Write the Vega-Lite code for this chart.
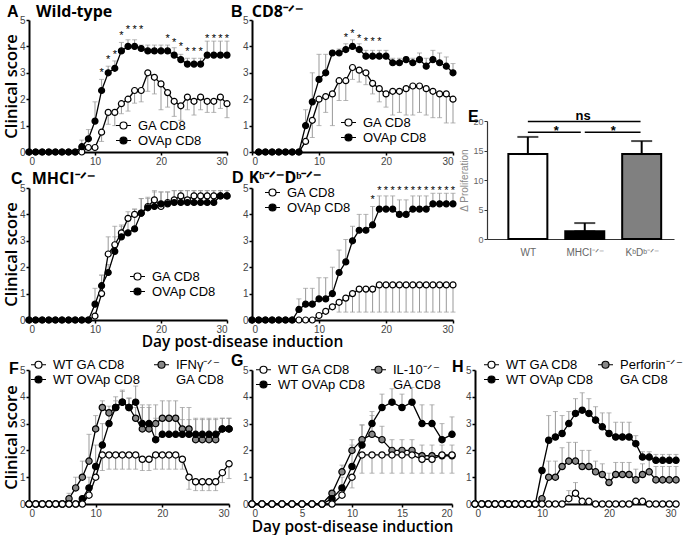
{
"$schema":"https://vega.github.io/schema/vega-lite/v6.json",
"padding":{"left":3,"top":4,"right":0,"bottom":0},
"background":"white",
"config":{
 "view":{"stroke":null},
 "font":"Liberation Sans",
 "axis":{"grid":false,"domainColor":"black","domainWidth":2,"tickColor":"black","tickWidth":1.5,"tickSize":3,"labelFont":"Liberation Sans","labelFontSize":10,"labelColor":"#444","labelPadding":1,"titleFont":"Open Sans","titleFontWeight":600,"titleFontSize":15.5,"titleColor":"black"},
 "axisY":{"titleFontSize":16.5},
 "legend":{"orient":"none","labelFont":"Liberation Sans","labelFontSize":13,"labelColor":"black","symbolType":"M-1.5,0H-0.7M0.7,0H1.5M0.7,0A0.7,0.7,0,1,1,-0.7,0A0.7,0.7,0,1,1,0.7,0","symbolSize":100,"symbolStrokeColor":"black","symbolStrokeWidth":1.2,"symbolOpacity":1,"labelOffset":8,"rowPadding":1,"padding":0},
 "title":{"anchor":"start","frame":"group","font":"Liberation Sans","fontSize":16,"fontWeight":"bold","color":"black","subtitleFont":"Open Sans","subtitleFontSize":16,"subtitleFontWeight":"bold","subtitleColor":"black","subtitlePadding":-16,"offset":-5}
},
"datasets":{
"A":[
{"s":"GA","d":0,"v":0},{"s":"GA","d":1,"v":0},{"s":"GA","d":2,"v":0},{"s":"GA","d":3,"v":0},{"s":"GA","d":4,"v":0},{"s":"GA","d":5,"v":0},{"s":"GA","d":6,"v":0},{"s":"GA","d":7,"v":0},{"s":"GA","d":8,"v":0},{"s":"GA","d":9,"v":0.17},{"s":"GA","d":10,"v":0.17},{"s":"GA","d":11,"v":0.75,"e":0.4},{"s":"GA","d":12,"v":1.5,"e":1.05},{"s":"GA","d":13,"v":1.5,"e":1.0},{"s":"GA","d":14,"v":1.83,"e":1.45},{"s":"GA","d":15,"v":2.0,"e":1.55},{"s":"GA","d":16,"v":2.33,"e":1.85},{"s":"GA","d":17,"v":2.33,"e":1.9},{"s":"GA","d":18,"v":3.0,"e":2.3},{"s":"GA","d":19,"v":2.83,"e":2.2},{"s":"GA","d":20,"v":2.58,"e":1.6},{"s":"GA","d":21,"v":2.25,"e":1.7},{"s":"GA","d":22,"v":1.92,"e":1.35},{"s":"GA","d":23,"v":1.75,"e":1.2},{"s":"GA","d":24,"v":2.08,"e":1.6},{"s":"GA","d":25,"v":1.92,"e":1.4},{"s":"GA","d":26,"v":2.08,"e":1.6},{"s":"GA","d":27,"v":1.92,"e":1.5},{"s":"GA","d":28,"v":1.92,"e":1.5},{"s":"GA","d":29,"v":2.08,"e":1.65},{"s":"GA","d":30,"v":1.83,"e":1.3},
{"s":"OV","d":0,"v":0},{"s":"OV","d":1,"v":0},{"s":"OV","d":2,"v":0},{"s":"OV","d":3,"v":0},{"s":"OV","d":4,"v":0},{"s":"OV","d":5,"v":0},{"s":"OV","d":6,"v":0},{"s":"OV","d":7,"v":0},{"s":"OV","d":8,"v":0.2,"e":0.45},{"s":"OV","d":9,"v":0.5,"e":0.85},{"s":"OV","d":10,"v":1.17,"e":1.9},{"s":"OV","d":11,"v":2.33,"e":2.75},{"s":"OV","d":12,"v":3.0,"e":3.25},{"s":"OV","d":13,"v":3.17,"e":3.45},{"s":"OV","d":14,"v":3.83,"e":4.15},{"s":"OV","d":15,"v":4.0,"e":4.25},{"s":"OV","d":16,"v":4.0,"e":4.25},{"s":"OV","d":17,"v":3.92,"e":4.05},{"s":"OV","d":18,"v":3.83,"e":4.05},{"s":"OV","d":19,"v":3.83,"e":4.05},{"s":"OV","d":20,"v":3.83,"e":4.05},{"s":"OV","d":21,"v":3.83,"e":4.05},{"s":"OV","d":22,"v":3.67,"e":3.95},{"s":"OV","d":23,"v":3.5,"e":3.7},{"s":"OV","d":24,"v":3.33,"e":3.55},{"s":"OV","d":25,"v":3.33,"e":3.55},{"s":"OV","d":26,"v":3.33,"e":3.55},{"s":"OV","d":27,"v":3.67,"e":4.2},{"s":"OV","d":28,"v":3.67,"e":4.2},{"s":"OV","d":29,"v":3.67,"e":4.2},{"s":"OV","d":30,"v":3.67,"e":4.2}],
"As":[{"d":11,"v":3.1},{"d":12,"v":3.6},{"d":13,"v":3.8},{"d":14,"v":4.5},{"d":15,"v":4.75},{"d":16,"v":4.75},{"d":17,"v":4.75},{"d":21,"v":4.4},{"d":22,"v":4.24},{"d":23,"v":4.1},{"d":24,"v":3.9},{"d":25,"v":3.9},{"d":26,"v":3.9},{"d":27,"v":4.4},{"d":28,"v":4.4},{"d":29,"v":4.4},{"d":30,"v":4.4}],
"B":[
{"s":"GA","d":1,"v":0},{"s":"GA","d":2,"v":0},{"s":"GA","d":3,"v":0},{"s":"GA","d":4,"v":0},{"s":"GA","d":5,"v":0},{"s":"GA","d":6,"v":0},{"s":"GA","d":7,"v":0},{"s":"GA","d":8,"v":0.4},{"s":"GA","d":9,"v":1.2,"e":0.55},{"s":"GA","d":10,"v":2.0,"e":1.0},{"s":"GA","d":11,"v":2.1,"e":1.5},{"s":"GA","d":12,"v":2.2,"e":1.0},{"s":"GA","d":13,"v":2.7,"e":1.95},{"s":"GA","d":14,"v":2.7,"e":1.95},{"s":"GA","d":15,"v":3.2,"e":2.75},{"s":"GA","d":16,"v":3.1,"e":2.65},{"s":"GA","d":17,"v":3.0,"e":2.55},{"s":"GA","d":18,"v":2.6,"e":2.2},{"s":"GA","d":19,"v":2.4,"e":1.9},{"s":"GA","d":20,"v":2.2,"e":1.7},{"s":"GA","d":21,"v":2.3,"e":1.4},{"s":"GA","d":22,"v":2.3,"e":1.5},{"s":"GA","d":23,"v":2.4,"e":1.4},{"s":"GA","d":24,"v":2.5,"e":1.4},{"s":"GA","d":25,"v":2.5,"e":1.5},{"s":"GA","d":26,"v":2.4,"e":1.4},{"s":"GA","d":27,"v":2.3,"e":1.3},{"s":"GA","d":28,"v":2.2,"e":1.3},{"s":"GA","d":29,"v":2.2,"e":1.1},{"s":"GA","d":30,"v":2.0,"e":1.1},
{"s":"OV","d":1,"v":0},{"s":"OV","d":2,"v":0},{"s":"OV","d":3,"v":0},{"s":"OV","d":4,"v":0},{"s":"OV","d":5,"v":0},{"s":"OV","d":6,"v":0},{"s":"OV","d":7,"v":0},{"s":"OV","d":8,"v":1.0,"e":1.6},{"s":"OV","d":9,"v":1.9,"e":3.0},{"s":"OV","d":10,"v":2.75,"e":3.7},{"s":"OV","d":11,"v":3.0,"e":3.7},{"s":"OV","d":12,"v":3.75,"e":3.85},{"s":"OV","d":13,"v":3.75,"e":3.9},{"s":"OV","d":14,"v":3.88,"e":4.1},{"s":"OV","d":15,"v":4.0,"e":4.25},{"s":"OV","d":16,"v":3.88,"e":4.1},{"s":"OV","d":17,"v":3.63,"e":3.85},{"s":"OV","d":18,"v":3.63,"e":3.85},{"s":"OV","d":19,"v":3.63,"e":3.85},{"s":"OV","d":20,"v":3.63,"e":3.85},{"s":"OV","d":21,"v":3.38,"e":3.55},{"s":"OV","d":22,"v":3.38,"e":3.55},{"s":"OV","d":23,"v":3.5,"e":3.6},{"s":"OV","d":24,"v":3.38,"e":3.55},{"s":"OV","d":25,"v":3.5,"e":3.75},{"s":"OV","d":26,"v":3.25,"e":3.55},{"s":"OV","d":27,"v":3.5,"e":3.85},{"s":"OV","d":28,"v":3.38,"e":3.75},{"s":"OV","d":29,"v":3.25,"e":3.6},{"s":"OV","d":30,"v":3.0,"e":3.35}],
"Bs":[{"d":14,"v":4.45},{"d":15,"v":4.6},{"d":16,"v":4.4},{"d":17,"v":4.27},{"d":18,"v":4.27},{"d":19,"v":4.27}],
"C":[
{"s":"GA","d":0,"v":0},{"s":"GA","d":1,"v":0},{"s":"GA","d":2,"v":0},{"s":"GA","d":3,"v":0},{"s":"GA","d":4,"v":0},{"s":"GA","d":5,"v":0},{"s":"GA","d":6,"v":0},{"s":"GA","d":7,"v":0},{"s":"GA","d":8,"v":0},{"s":"GA","d":9,"v":0},{"s":"GA","d":10,"v":0.15},{"s":"GA","d":11,"v":1.0,"e":1.7},{"s":"GA","d":12,"v":2.5,"e":3.15},{"s":"GA","d":13,"v":2.85,"e":3.55},{"s":"GA","d":14,"v":3.3,"e":3.6},{"s":"GA","d":15,"v":3.85,"e":4.1},{"s":"GA","d":16,"v":4.0,"e":4.2},{"s":"GA","d":17,"v":4.05,"e":4.6},{"s":"GA","d":18,"v":4.3,"e":4.65},{"s":"GA","d":19,"v":4.55,"e":4.9},{"s":"GA","d":20,"v":4.3,"e":4.85},{"s":"GA","d":21,"v":4.45,"e":4.85},{"s":"GA","d":22,"v":4.55,"e":4.9},{"s":"GA","d":23,"v":4.7,"e":4.9},{"s":"GA","d":24,"v":4.55,"e":4.9},{"s":"GA","d":25,"v":4.7,"e":4.9},{"s":"GA","d":26,"v":4.7,"e":4.9},{"s":"GA","d":27,"v":4.7,"e":4.9},{"s":"GA","d":28,"v":4.7,"e":4.9},{"s":"GA","d":29,"v":4.7,"e":4.9},{"s":"GA","d":30,"v":4.7,"e":4.9},
{"s":"OV","d":0,"v":0},{"s":"OV","d":1,"v":0},{"s":"OV","d":2,"v":0},{"s":"OV","d":3,"v":0},{"s":"OV","d":4,"v":0},{"s":"OV","d":5,"v":0},{"s":"OV","d":6,"v":0},{"s":"OV","d":7,"v":0},{"s":"OV","d":8,"v":0},{"s":"OV","d":9,"v":0},{"s":"OV","d":10,"v":0.6,"e":1.2},{"s":"OV","d":11,"v":1.3,"e":1.7},{"s":"OV","d":12,"v":1.8,"e":2.1},{"s":"OV","d":13,"v":2.6,"e":3.15},{"s":"OV","d":14,"v":3.15,"e":3.55},{"s":"OV","d":15,"v":3.3,"e":3.75},{"s":"OV","d":16,"v":3.45,"e":4.2},{"s":"OV","d":17,"v":4.05,"e":4.6},{"s":"OV","d":18,"v":4.25,"e":4.6},{"s":"OV","d":19,"v":4.3,"e":4.85},{"s":"OV","d":20,"v":4.4,"e":4.85},{"s":"OV","d":21,"v":4.4,"e":4.85},{"s":"OV","d":22,"v":4.45,"e":4.9},{"s":"OV","d":23,"v":4.45,"e":4.9},{"s":"OV","d":24,"v":4.45,"e":4.9},{"s":"OV","d":25,"v":4.45,"e":4.9},{"s":"OV","d":26,"v":4.45,"e":4.9},{"s":"OV","d":27,"v":4.45,"e":4.9},{"s":"OV","d":28,"v":4.45,"e":4.9},{"s":"OV","d":29,"v":4.7,"e":4.9},{"s":"OV","d":30,"v":4.7,"e":4.9}],
"D":[
{"s":"GA","d":0,"v":0},{"s":"GA","d":1,"v":0},{"s":"GA","d":2,"v":0},{"s":"GA","d":3,"v":0},{"s":"GA","d":4,"v":0},{"s":"GA","d":5,"v":0},{"s":"GA","d":6,"v":0},{"s":"GA","d":7,"v":0},{"s":"GA","d":8,"v":0},{"s":"GA","d":9,"v":0},{"s":"GA","d":10,"v":0.17},{"s":"GA","d":11,"v":0.33},{"s":"GA","d":12,"v":0.5},{"s":"GA","d":13,"v":0.67,"e":0.3},{"s":"GA","d":14,"v":0.83,"e":0.3},{"s":"GA","d":15,"v":1.0,"e":0.3},{"s":"GA","d":16,"v":1.17,"e":0.3},{"s":"GA","d":17,"v":1.17,"e":0.3},{"s":"GA","d":18,"v":1.17,"e":0.3},{"s":"GA","d":19,"v":1.33,"e":0.3},{"s":"GA","d":20,"v":1.33,"e":0.3},{"s":"GA","d":21,"v":1.33,"e":0.3},{"s":"GA","d":22,"v":1.33,"e":0.3},{"s":"GA","d":23,"v":1.33,"e":0.3},{"s":"GA","d":24,"v":1.33,"e":0.3},{"s":"GA","d":25,"v":1.33,"e":0.3},{"s":"GA","d":26,"v":1.33,"e":0.3},{"s":"GA","d":27,"v":1.33,"e":0.3},{"s":"GA","d":28,"v":1.33,"e":0.3},{"s":"GA","d":29,"v":1.33,"e":0.3},{"s":"GA","d":30,"v":1.33,"e":0.3},
{"s":"OV","d":0,"v":0},{"s":"OV","d":1,"v":0},{"s":"OV","d":2,"v":0},{"s":"OV","d":3,"v":0},{"s":"OV","d":4,"v":0},{"s":"OV","d":5,"v":0},{"s":"OV","d":6,"v":0},{"s":"OV","d":7,"v":0.4,"e":0.8},{"s":"OV","d":8,"v":0.6,"e":1.2},{"s":"OV","d":9,"v":0.6,"e":1.2},{"s":"OV","d":10,"v":0.8,"e":1.6},{"s":"OV","d":11,"v":0.8,"e":1.6},{"s":"OV","d":12,"v":1.0,"e":2.0},{"s":"OV","d":13,"v":1.8,"e":2.65},{"s":"OV","d":14,"v":2.2,"e":3.05},{"s":"OV","d":15,"v":3.0,"e":3.55},{"s":"OV","d":16,"v":3.4,"e":4.0},{"s":"OV","d":17,"v":3.4,"e":4.0},{"s":"OV","d":18,"v":3.6,"e":4.3},{"s":"OV","d":19,"v":4.2,"e":4.7},{"s":"OV","d":20,"v":4.2,"e":4.7},{"s":"OV","d":21,"v":4.2,"e":4.7},{"s":"OV","d":22,"v":4.0,"e":4.55},{"s":"OV","d":23,"v":4.0,"e":4.55},{"s":"OV","d":24,"v":4.2,"e":4.7},{"s":"OV","d":25,"v":4.2,"e":4.7},{"s":"OV","d":26,"v":4.2,"e":4.7},{"s":"OV","d":27,"v":4.4,"e":4.8},{"s":"OV","d":28,"v":4.4,"e":4.8},{"s":"OV","d":29,"v":4.4,"e":4.8},{"s":"OV","d":30,"v":4.4,"e":4.8}],
"Ds":[{"d":18,"v":4.67},{"d":19,"v":5.0},{"d":20,"v":5.0},{"d":21,"v":5.0},{"d":22,"v":5.0},{"d":23,"v":5.0},{"d":24,"v":5.0},{"d":25,"v":5.0},{"d":26,"v":5.0},{"d":27,"v":5.0},{"d":28,"v":5.0},{"d":29,"v":5.0},{"d":30,"v":5.0}],
"E":[{"x":1,"c":"WT","v":14.4,"e":17.3},{"x":2,"c":"MH","v":1.3,"e":2.7},{"x":3,"c":"KD","v":14.4,"e":16.6}],
"Esig":[{"x":1,"x2":2.98,"v":19.93},{"x":1,"x2":1.93,"v":18.1},{"x":2,"x2":2.98,"v":18.1}],
"Elab":[{"x":1.5,"v":18.35,"t":"*"},{"x":2.5,"v":18.35,"t":"*"},{"x":1.97,"v":20.8,"t":"ns"}],
"F":[
{"s":"KO","d":0,"v":0},{"s":"KO","d":1,"v":0},{"s":"KO","d":2,"v":0},{"s":"KO","d":3,"v":0},{"s":"KO","d":4,"v":0},{"s":"KO","d":5,"v":0},{"s":"KO","d":6,"v":0.2,"e":0.4},{"s":"KO","d":7,"v":0.6,"e":1.0},{"s":"KO","d":8,"v":1.0,"e":1.6},{"s":"KO","d":9,"v":1.6,"e":2.6},{"s":"KO","d":10,"v":2.8,"e":3.3},{"s":"KO","d":11,"v":3.6,"e":3.85},{"s":"KO","d":12,"v":3.4,"e":3.65},{"s":"KO","d":13,"v":3.6,"e":4.0},{"s":"KO","d":14,"v":3.8,"e":4.25},{"s":"KO","d":15,"v":3.6,"e":3.95},{"s":"KO","d":16,"v":3.2,"e":3.6},{"s":"KO","d":17,"v":2.8,"e":3.7},{"s":"KO","d":18,"v":2.8,"e":3.7},{"s":"KO","d":19,"v":3.0,"e":3.7},{"s":"KO","d":20,"v":3.2,"e":3.85},{"s":"KO","d":21,"v":3.2,"e":3.85},{"s":"KO","d":22,"v":3.2,"e":3.85},{"s":"KO","d":23,"v":2.8,"e":3.6},{"s":"KO","d":24,"v":2.8,"e":3.6},{"s":"KO","d":25,"v":2.4,"e":3.2},{"s":"KO","d":26,"v":2.4,"e":3.2},{"s":"KO","d":27,"v":2.4,"e":3.2},{"s":"KO","d":28,"v":2.4,"e":3.2},{"s":"KO","d":29,"v":2.8,"e":3.2},{"s":"KO","d":30,"v":2.8,"e":3.2},
{"s":"WO","d":0,"v":0},{"s":"WO","d":1,"v":0},{"s":"WO","d":2,"v":0},{"s":"WO","d":3,"v":0},{"s":"WO","d":4,"v":0},{"s":"WO","d":5,"v":0},{"s":"WO","d":6,"v":0},{"s":"WO","d":7,"v":0},{"s":"WO","d":8,"v":0.2},{"s":"WO","d":9,"v":0.6,"e":1.0},{"s":"WO","d":10,"v":1.4,"e":2.2},{"s":"WO","d":11,"v":2.2,"e":3.0},{"s":"WO","d":12,"v":3.0,"e":3.5},{"s":"WO","d":13,"v":3.6,"e":3.85},{"s":"WO","d":14,"v":3.8,"e":4.2},{"s":"WO","d":15,"v":3.6,"e":3.95},{"s":"WO","d":16,"v":3.8,"e":4.4},{"s":"WO","d":17,"v":3.0,"e":3.6},{"s":"WO","d":18,"v":3.0,"e":3.6},{"s":"WO","d":19,"v":2.4,"e":3.2},{"s":"WO","d":20,"v":2.6,"e":3.15},{"s":"WO","d":21,"v":2.6,"e":3.15},{"s":"WO","d":22,"v":2.6,"e":3.15},{"s":"WO","d":23,"v":2.6,"e":3.15},{"s":"WO","d":24,"v":2.6,"e":3.15},{"s":"WO","d":25,"v":2.6,"e":3.15},{"s":"WO","d":26,"v":2.6,"e":3.15},{"s":"WO","d":27,"v":2.6,"e":3.15},{"s":"WO","d":28,"v":2.6,"e":3.15},{"s":"WO","d":29,"v":2.8,"e":3.2},{"s":"WO","d":30,"v":2.8,"e":3.2},
{"s":"WG","d":0,"v":0},{"s":"WG","d":1,"v":0},{"s":"WG","d":2,"v":0},{"s":"WG","d":3,"v":0},{"s":"WG","d":4,"v":0},{"s":"WG","d":5,"v":0},{"s":"WG","d":6,"v":0},{"s":"WG","d":7,"v":0},{"s":"WG","d":8,"v":0},{"s":"WG","d":9,"v":0.33},{"s":"WG","d":10,"v":1.0},{"s":"WG","d":11,"v":1.83,"e":1.25},{"s":"WG","d":12,"v":1.83,"e":1.3},{"s":"WG","d":13,"v":1.83,"e":1.3},{"s":"WG","d":14,"v":1.83,"e":1.3},{"s":"WG","d":15,"v":1.83,"e":1.3},{"s":"WG","d":16,"v":1.83,"e":1.3},{"s":"WG","d":17,"v":1.67,"e":1.25},{"s":"WG","d":18,"v":1.67,"e":1.25},{"s":"WG","d":19,"v":1.83,"e":1.3},{"s":"WG","d":20,"v":1.83,"e":1.3},{"s":"WG","d":21,"v":1.83,"e":1.3},{"s":"WG","d":22,"v":1.83,"e":1.3},{"s":"WG","d":23,"v":1.67,"e":1.3},{"s":"WG","d":24,"v":1.0,"e":0.55},{"s":"WG","d":25,"v":0.83,"e":0.5},{"s":"WG","d":26,"v":0.83,"e":0.5},{"s":"WG","d":27,"v":0.83,"e":0.5},{"s":"WG","d":28,"v":0.83,"e":0.5},{"s":"WG","d":29,"v":1.17,"e":0.8},{"s":"WG","d":30,"v":1.5,"e":0.95}],
"G":[
{"s":"KO","d":0,"v":0},{"s":"KO","d":1,"v":0},{"s":"KO","d":2,"v":0},{"s":"KO","d":3,"v":0},{"s":"KO","d":4,"v":0},{"s":"KO","d":5,"v":0},{"s":"KO","d":6,"v":0},{"s":"KO","d":7,"v":0},{"s":"KO","d":8,"v":0.4},{"s":"KO","d":9,"v":1.2,"e":1.45},{"s":"KO","d":10,"v":2.0,"e":2.4},{"s":"KO","d":11,"v":2.4,"e":2.95},{"s":"KO","d":12,"v":2.6,"e":3.3},{"s":"KO","d":13,"v":2.4,"e":2.9},{"s":"KO","d":14,"v":2.0,"e":2.4},{"s":"KO","d":15,"v":2.0,"e":2.4},{"s":"KO","d":16,"v":2.0,"e":2.4},{"s":"KO","d":17,"v":1.8,"e":2.2},{"s":"KO","d":18,"v":1.8,"e":2.2},{"s":"KO","d":19,"v":1.8,"e":2.2},{"s":"KO","d":20,"v":1.8,"e":2.2},
{"s":"WO","d":0,"v":0},{"s":"WO","d":1,"v":0},{"s":"WO","d":2,"v":0},{"s":"WO","d":3,"v":0},{"s":"WO","d":4,"v":0},{"s":"WO","d":5,"v":0},{"s":"WO","d":6,"v":0},{"s":"WO","d":7,"v":0},{"s":"WO","d":8,"v":0.2},{"s":"WO","d":9,"v":0.6,"e":1.0},{"s":"WO","d":10,"v":1.4,"e":2.2},{"s":"WO","d":11,"v":2.2,"e":2.95},{"s":"WO","d":12,"v":3.0,"e":3.45},{"s":"WO","d":13,"v":3.6,"e":4.1},{"s":"WO","d":14,"v":3.8,"e":4.3},{"s":"WO","d":15,"v":3.6,"e":4.1},{"s":"WO","d":16,"v":3.8,"e":4.35},{"s":"WO","d":17,"v":3.0,"e":3.7},{"s":"WO","d":18,"v":3.0,"e":3.7},{"s":"WO","d":19,"v":2.4,"e":3.0},{"s":"WO","d":20,"v":2.6,"e":3.25},
{"s":"WG","d":0,"v":0},{"s":"WG","d":1,"v":0},{"s":"WG","d":2,"v":0},{"s":"WG","d":3,"v":0},{"s":"WG","d":4,"v":0},{"s":"WG","d":5,"v":0},{"s":"WG","d":6,"v":0},{"s":"WG","d":7,"v":0},{"s":"WG","d":8,"v":0},{"s":"WG","d":9,"v":0.33},{"s":"WG","d":10,"v":1.0,"e":0.6},{"s":"WG","d":11,"v":1.83,"e":1.15},{"s":"WG","d":12,"v":1.83,"e":1.15},{"s":"WG","d":13,"v":1.83,"e":1.15},{"s":"WG","d":14,"v":1.83,"e":1.15},{"s":"WG","d":15,"v":1.83,"e":1.15},{"s":"WG","d":16,"v":1.83,"e":1.15},{"s":"WG","d":17,"v":1.67,"e":1.15},{"s":"WG","d":18,"v":1.67,"e":1.15},{"s":"WG","d":19,"v":1.83,"e":1.15},{"s":"WG","d":20,"v":1.83,"e":1.15}],
"H":[
{"s":"KO","d":0,"v":0},{"s":"KO","d":1,"v":0},{"s":"KO","d":2,"v":0},{"s":"KO","d":3,"v":0},{"s":"KO","d":4,"v":0},{"s":"KO","d":5,"v":0},{"s":"KO","d":6,"v":0},{"s":"KO","d":7,"v":0},{"s":"KO","d":8,"v":0},{"s":"KO","d":9,"v":0},{"s":"KO","d":10,"v":0.2},{"s":"KO","d":11,"v":1.0,"e":1.6},{"s":"KO","d":12,"v":1.0,"e":1.6},{"s":"KO","d":13,"v":1.4,"e":2.1},{"s":"KO","d":14,"v":1.6,"e":2.3},{"s":"KO","d":15,"v":1.6,"e":2.3},{"s":"KO","d":16,"v":1.4,"e":2.0},{"s":"KO","d":17,"v":1.4,"e":2.0},{"s":"KO","d":18,"v":1.2,"e":1.6},{"s":"KO","d":19,"v":1.1,"e":1.5},{"s":"KO","d":20,"v":0.8,"e":1.15},{"s":"KO","d":21,"v":1.1,"e":1.55},{"s":"KO","d":22,"v":1.1,"e":1.55},{"s":"KO","d":23,"v":1.1,"e":1.55},{"s":"KO","d":24,"v":0.9,"e":1.3},{"s":"KO","d":25,"v":1.1,"e":1.5},{"s":"KO","d":26,"v":1.2,"e":1.7},{"s":"KO","d":27,"v":0.9,"e":1.4},{"s":"KO","d":28,"v":0.9,"e":1.4},{"s":"KO","d":29,"v":0.9,"e":1.4},{"s":"KO","d":30,"v":0.9,"e":1.4},
{"s":"WO","d":0,"v":0},{"s":"WO","d":1,"v":0},{"s":"WO","d":2,"v":0},{"s":"WO","d":3,"v":0},{"s":"WO","d":4,"v":0},{"s":"WO","d":5,"v":0},{"s":"WO","d":6,"v":0},{"s":"WO","d":7,"v":0},{"s":"WO","d":8,"v":0},{"s":"WO","d":9,"v":0},{"s":"WO","d":10,"v":1.25},{"s":"WO","d":11,"v":2.38,"e":3.3},{"s":"WO","d":12,"v":2.5,"e":3.45},{"s":"WO","d":13,"v":2.63,"e":3.3},{"s":"WO","d":14,"v":3.0,"e":3.45},{"s":"WO","d":15,"v":3.38,"e":3.93},{"s":"WO","d":16,"v":3.5,"e":4.15},{"s":"WO","d":17,"v":3.38,"e":3.93},{"s":"WO","d":18,"v":3.13,"e":3.63},{"s":"WO","d":19,"v":2.88,"e":3.4},{"s":"WO","d":20,"v":2.63,"e":3.4},{"s":"WO","d":21,"v":2.5,"e":3.05},{"s":"WO","d":22,"v":2.5,"e":3.05},{"s":"WO","d":23,"v":2.5,"e":3.05},{"s":"WO","d":24,"v":2.25,"e":2.55},{"s":"WO","d":25,"v":1.75,"e":1.95},{"s":"WO","d":26,"v":1.75,"e":1.95},{"s":"WO","d":27,"v":1.63,"e":1.85},{"s":"WO","d":28,"v":1.63,"e":1.85},{"s":"WO","d":29,"v":1.63,"e":1.85},{"s":"WO","d":30,"v":1.63,"e":1.85},
{"s":"WG","d":0,"v":0},{"s":"WG","d":1,"v":0},{"s":"WG","d":2,"v":0},{"s":"WG","d":3,"v":0},{"s":"WG","d":4,"v":0},{"s":"WG","d":5,"v":0},{"s":"WG","d":6,"v":0},{"s":"WG","d":7,"v":0},{"s":"WG","d":8,"v":0},{"s":"WG","d":9,"v":0},{"s":"WG","d":10,"v":0},{"s":"WG","d":11,"v":0},{"s":"WG","d":12,"v":0},{"s":"WG","d":13,"v":0},{"s":"WG","d":14,"v":0.2,"e":0.5},{"s":"WG","d":15,"v":0.4,"e":0.8},{"s":"WG","d":16,"v":0.1},{"s":"WG","d":17,"v":0.1},{"s":"WG","d":18,"v":0},{"s":"WG","d":19,"v":0},{"s":"WG","d":20,"v":0},{"s":"WG","d":21,"v":0},{"s":"WG","d":22,"v":0},{"s":"WG","d":23,"v":0},{"s":"WG","d":24,"v":0.1},{"s":"WG","d":25,"v":0.1},{"s":"WG","d":26,"v":0},{"s":"WG","d":27,"v":0},{"s":"WG","d":28,"v":0},{"s":"WG","d":29,"v":0},{"s":"WG","d":30,"v":0}]
},
"spacing":3,
"resolve":{"scale":{"fill":"independent"},"legend":{"fill":"independent"}},
"vconcat":[
{"spacing":0,"resolve":{"scale":{"fill":"independent"},"legend":{"fill":"independent"}},"hconcat":[
 {"bounds":"flush","align":"each","columns":2,"spacing":{"row":36,"column":25},"resolve":{"scale":{"fill":"independent"},"legend":{"fill":"independent"}},"concat":[
   {"width":198,"height":132,"data":{"name":"A"},
    "title":{"text":"A","subtitle":"\u200b\u00a0\u00a0\u00a0\u00a0\u00a0\u00a0\u00a0Wild-type","dx":-22},
    "encoding":{"x":{"field":"d","type":"quantitative","scale":{"domain":[0,30],"nice":false},"axis":{"values":[0,10,20,30],"title":null}},
                "y":{"field":"v","type":"quantitative","scale":{"domain":[0,5],"nice":false},"axis":{"values":[0,1,2,3,4,5],"title":"Clinical score","titlePadding":0}}},
    "layer":[
     {"transform":[{"filter":"isValid(datum.e)"}],"mark":{"type":"errorbar","ticks":true,"color":"#999999","thickness":1,"size":5},"encoding":{"y2":{"field":"e"}}},
     {"mark":{"type":"line","color":"black","strokeWidth":1.3},"encoding":{"detail":{"field":"s"}}},
     {"mark":{"type":"point","filled":true,"size":36,"stroke":"black","strokeWidth":1.2,"opacity":1},"encoding":{"fill":{"field":"s","type":"nominal","scale":{"domain":["GA","OV"],"range":["white","black"]},"legend":{"title":null,"legendX":88,"legendY":99,"labelExpr":"datum.value=='GA'?'GA CD8':'OVAp CD8'"}}}},
     {"data":{"name":"As"},"mark":{"type":"text","text":"*","fontSize":11,"dy":3},"encoding":{}}
    ]},
   {"width":201,"height":132,"data":{"name":"B"},
    "title":{"text":"B","subtitle":"\u200b\u00a0\u00a0\u00a0\u00a0\u00a0CD8\u207b\u141f\u207b","dx":-21},
    "encoding":{"x":{"field":"d","type":"quantitative","scale":{"domain":[0,30],"nice":false},"axis":{"values":[0,10,20,30],"title":null}},
                "y":{"field":"v","type":"quantitative","scale":{"domain":[0,5],"nice":false},"axis":{"values":[0,1,2,3,4,5],"title":null}}},
    "layer":[
     {"transform":[{"filter":"isValid(datum.e)"}],"mark":{"type":"errorbar","ticks":true,"color":"#999999","thickness":1,"size":5},"encoding":{"y2":{"field":"e"}}},
     {"mark":{"type":"line","color":"black","strokeWidth":1.3},"encoding":{"detail":{"field":"s"}}},
     {"mark":{"type":"point","filled":true,"size":36,"stroke":"black","strokeWidth":1.2,"opacity":1},"encoding":{"fill":{"field":"s","type":"nominal","scale":{"domain":["GA","OV"],"range":["white","black"]},"legend":{"title":null,"legendX":90,"legendY":96,"labelExpr":"datum.value=='GA'?'GA CD8':'OVAp CD8'"}}}},
     {"data":{"name":"Bs"},"mark":{"type":"text","text":"*","fontSize":11,"dy":3},"encoding":{}}
    ]},
   {"width":198,"height":132,"data":{"name":"C"},
    "title":{"text":"C","subtitle":"\u200b\u00a0\u00a0\u00a0\u00a0\u00a0MHCI\u207b\u141f\u207b","dx":-18,"offset":-4},
    "encoding":{"x":{"field":"d","type":"quantitative","scale":{"domain":[0,30],"nice":false},"axis":{"values":[0,10,20,30],"title":"Day post-disease induction","titleX":213,"titleY":26,"titleAnchor":null,"titleAlign":"center","titleBaseline":"alphabetic"}},
                "y":{"field":"v","type":"quantitative","scale":{"domain":[0,5],"nice":false},"axis":{"values":[0,1,2,3,4,5],"title":"Clinical score","titlePadding":0}}},
    "layer":[
     {"transform":[{"filter":"isValid(datum.e)"}],"mark":{"type":"errorbar","ticks":true,"color":"#999999","thickness":1,"size":5},"encoding":{"y2":{"field":"e"}}},
     {"mark":{"type":"line","color":"black","strokeWidth":1.3},"encoding":{"detail":{"field":"s"}}},
     {"mark":{"type":"point","filled":true,"size":36,"stroke":"black","strokeWidth":1.2,"opacity":1},"encoding":{"fill":{"field":"s","type":"nominal","scale":{"domain":["GA","OV"],"range":["white","black"]},"legend":{"title":null,"legendX":102,"legendY":82,"labelExpr":"datum.value=='GA'?'GA CD8':'OVAp CD8'"}}}}
    ]},
   {"width":201,"height":132,"data":{"name":"D"},
    "title":{"text":"D","subtitle":"\u200b\u00a0\u00a0\u00a0\u00a0K\u1d47\u207b\u141f\u207bD\u1d47\u207b\u141f\u207b","dx":-20,"offset":-3},
    "encoding":{"x":{"field":"d","type":"quantitative","scale":{"domain":[0,30],"nice":false},"axis":{"values":[0,10,20,30],"title":null}},
                "y":{"field":"v","type":"quantitative","scale":{"domain":[0,5],"nice":false},"axis":{"values":[0,1,2,3,4,5],"title":null}}},
    "layer":[
     {"transform":[{"filter":"isValid(datum.e)"}],"mark":{"type":"errorbar","ticks":true,"color":"#999999","thickness":1,"size":5},"encoding":{"y2":{"field":"e"}}},
     {"mark":{"type":"line","color":"black","strokeWidth":1.3},"encoding":{"detail":{"field":"s"}}},
     {"mark":{"type":"point","filled":true,"size":36,"stroke":"black","strokeWidth":1.2,"opacity":1},"encoding":{"fill":{"field":"s","type":"nominal","scale":{"domain":["GA","OV"],"range":["white","black"]},"legend":{"title":null,"legendX":14,"legendY":-2,"labelExpr":"datum.value=='GA'?'GA CD8':'OVAp CD8'"}}}},
     {"data":{"name":"Ds"},"mark":{"type":"text","text":"*","fontSize":11,"dy":3},"encoding":{}}
    ]}
 ]},
 {"spacing":0,"vconcat":[
  {"width":187,"height":89,"data":{"values":[{"a":1}]},"mark":{"type":"point","opacity":0},"encoding":{}},
  {"width":187,"height":118,"data":{"name":"E"},
   "title":{"text":"E","dx":-19,"offset":-15},
   "encoding":{"x":{"field":"x","type":"quantitative","scale":{"domain":[0.37,3.48],"nice":false,"zero":false},"axis":{"values":[1,2,3],"title":null,"ticks":false,"domainWidth":1.2,"domainColor":"#333","labelPadding":8,"labelFontSize":10,"labelColor":"#666","labelExpr":"datum.value==1?'WT':datum.value==2?'MHCI\u207b\u141f\u207b':'K\u1d47D\u1d47\u207b\u141f\u207b'"}},
               "y":{"field":"v","type":"quantitative","scale":{"domain":[0,20],"nice":false},"axis":{"values":[0,5,10,15,20],"title":"\u0394 Proliferation","titleFont":"Liberation Sans","titleFontWeight":"normal","titleFontSize":10,"titleColor":"#888","titlePadding":3,"domainWidth":1.2,"domainColor":"#333","tickColor":"#333","tickWidth":1,"labelFontSize":9,"labelColor":"#666"}}},
   "layer":[
    {"mark":{"type":"bar","size":39,"stroke":"black","strokeWidth":2},"encoding":{"fill":{"field":"c","type":"nominal","scale":{"domain":["WT","MH","KD"],"range":["white","black","#808080"]},"legend":null}}},
    {"mark":{"type":"errorbar","ticks":true,"color":"black","thickness":2,"size":21},"encoding":{"y2":{"field":"e"}}},
    {"data":{"name":"Esig"},"mark":{"type":"rule","strokeWidth":1.5,"color":"black"},"encoding":{"x2":{"field":"x2"}}},
    {"data":{"name":"Elab"},"mark":{"type":"text","fontWeight":"bold","fontSize":13,"color":"black"},"encoding":{"text":{"field":"t"}}}
   ]}
 ]}
]},
{"bounds":"flush","spacing":23,"resolve":{"scale":{"fill":"independent"},"legend":{"fill":"independent"}},"hconcat":[
  {"width":200,"height":134,"data":{"name":"F"},
   "title":{"text":"F","dx":-20,"offset":-19},
   "encoding":{"x":{"field":"d","type":"quantitative","scale":{"domain":[0,30],"nice":false},"axis":{"values":[0,10,20,30],"title":null}},
               "y":{"field":"v","type":"quantitative","scale":{"domain":[0,5],"nice":false},"axis":{"values":[0,1,2,3,4,5],"title":"Clinical score","titlePadding":0}}},
   "layer":[
    {"transform":[{"filter":"isValid(datum.e)"}],"mark":{"type":"errorbar","ticks":true,"color":"#999999","thickness":1,"size":5},"encoding":{"y2":{"field":"e"}}},
    {"mark":{"type":"line","color":"black","strokeWidth":1.3},"encoding":{"detail":{"field":"s"}}},
    {"mark":{"type":"point","filled":true,"size":40,"stroke":"black","strokeWidth":1.2,"opacity":1},"encoding":{"fill":{"field":"s","type":"nominal","scale":{"domain":["WG","WO","KO","K2"],"range":["white","black","#888888","white"]},"legend":{"title":null,"legendX":3,"legendY":-12,"columns":2,"columnPadding":10,"labelExpr":"datum.value=='WG'?'WT GA CD8':datum.value=='WO'?'WT OVAp CD8':datum.value=='KO'?'IFN\u03b3\u207b\u141f\u207b':'GA CD8'","encode":{"symbols":{"update":{"opacity":{"signal":"datum.value=='K2'?0:1"}}}}}}}}
   ]},
  {"width":200,"height":134,"data":{"name":"G"},
   "title":{"text":"G","dx":-21,"offset":-6},
   "encoding":{"x":{"field":"d","type":"quantitative","scale":{"domain":[0,20],"nice":false},"axis":{"values":[0,5,10,15,20],"title":"Day post-disease induction","titleY":27,"titleBaseline":"alphabetic"}},
               "y":{"field":"v","type":"quantitative","scale":{"domain":[0,5],"nice":false},"axis":{"values":[0,1,2,3,4,5],"title":null}}},
   "layer":[
    {"transform":[{"filter":"isValid(datum.e)"}],"mark":{"type":"errorbar","ticks":true,"color":"#999999","thickness":1,"size":5},"encoding":{"y2":{"field":"e"}}},
    {"mark":{"type":"line","color":"black","strokeWidth":1.3},"encoding":{"detail":{"field":"s"}}},
    {"mark":{"type":"point","filled":true,"size":40,"stroke":"black","strokeWidth":1.2,"opacity":1},"encoding":{"fill":{"field":"s","type":"nominal","scale":{"domain":["WG","WO","KO","K2"],"range":["white","black","#888888","white"]},"legend":{"title":null,"legendX":5,"legendY":-7,"columns":2,"columnPadding":2,"labelExpr":"datum.value=='WG'?'WT GA CD8':datum.value=='WO'?'WT OVAp CD8':datum.value=='KO'?'IL-10\u207b\u141f\u207b':'GA CD8'","encode":{"symbols":{"update":{"opacity":{"signal":"datum.value=='K2'?0:1"}}}}}}}}
   ]},
  {"width":201,"height":134,"data":{"name":"H"},
   "title":{"text":"H","dx":-23,"offset":-17},
   "encoding":{"x":{"field":"d","type":"quantitative","scale":{"domain":[0,30],"nice":false},"axis":{"values":[0,10,20,30],"title":null}},
               "y":{"field":"v","type":"quantitative","scale":{"domain":[0,5],"nice":false},"axis":{"values":[0,1,2,3,4,5],"title":null}}},
   "layer":[
    {"transform":[{"filter":"isValid(datum.e)"}],"mark":{"type":"errorbar","ticks":true,"color":"#999999","thickness":1,"size":5},"encoding":{"y2":{"field":"e"}}},
    {"mark":{"type":"line","color":"black","strokeWidth":1.3},"encoding":{"detail":{"field":"s"}}},
    {"mark":{"type":"point","filled":true,"size":40,"stroke":"black","strokeWidth":1.2,"opacity":1},"encoding":{"fill":{"field":"s","type":"nominal","scale":{"domain":["WG","WO","KO","K2"],"range":["white","black","#888888","white"]},"legend":{"title":null,"legendX":10,"legendY":-12,"columns":2,"columnPadding":1,"labelExpr":"datum.value=='WG'?'WT GA CD8':datum.value=='WO'?'WT OVAp CD8':datum.value=='KO'?'Perforin\u207b\u141f\u207b':'GA CD8'","encode":{"symbols":{"update":{"opacity":{"signal":"datum.value=='K2'?0:1"}}}}}}}}
   ]}
]}
]
}
